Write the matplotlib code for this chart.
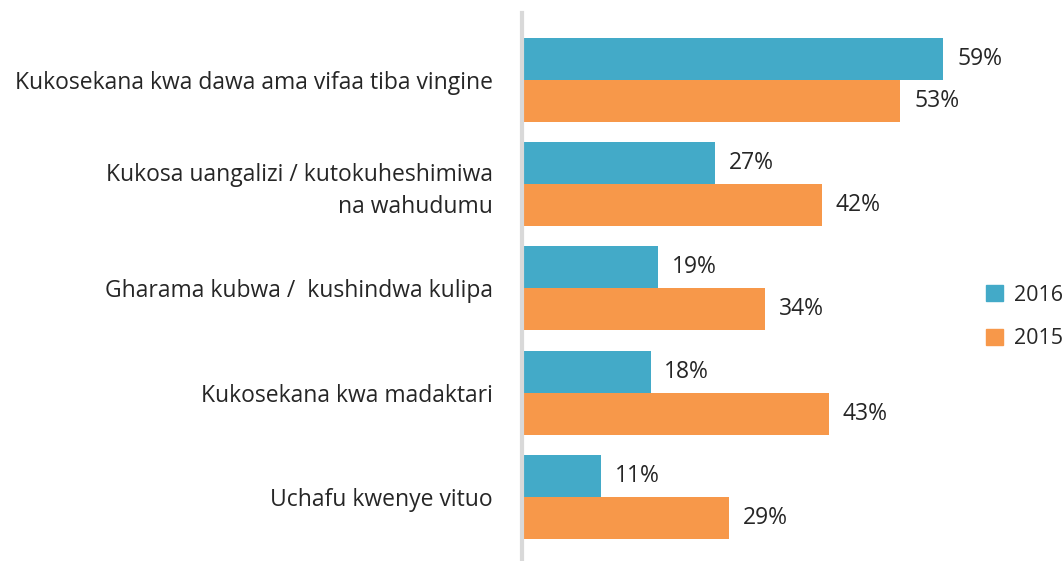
import matplotlib.pyplot as plt
from matplotlib.patches import Patch

plt.rcParams['font.family'] = ['Open Sans', 'DejaVu Sans']

categories = [
    "Kukosekana kwa dawa ama vifaa tiba vingine",
    "Kukosa uangalizi / kutokuheshimiwa\nna wahudumu",
    "Gharama kubwa /  kushindwa kulipa",
    "Kukosekana kwa madaktari",
    "Uchafu kwenye vituo",
]
values_2016 = [59, 27, 19, 18, 11]
values_2015 = [53, 42, 34, 43, 29]
series_names = ["2016", "2015"]

TEAL = "#43AAC8"
ORANGE = "#F7984A"
TEXT = "#262626"

W, H = 1064, 561
fig = plt.figure(figsize=(W / 100, H / 100), dpi=100)
ax = fig.add_axes([522 / W, 0, (W - 522) / W, (H - 13) / H])

pos = list(range(len(categories)))
bh = 0.402
teal_y = [p - bh / 2 for p in pos]
orange_y = [p + bh / 2 for p in pos]

b1 = ax.barh(teal_y, values_2016, height=bh, color=TEAL, zorder=1)
b2 = ax.barh(orange_y, values_2015, height=bh, color=ORANGE, zorder=1)

for bars, vals in [(b1, values_2016), (b2, values_2015)]:
    for bar, v in zip(bars, vals):
        ax.annotate(f"{v}%", (bar.get_width(), bar.get_y() + bar.get_height() / 2),
                    xytext=(10, 0), textcoords="offset points",
                    ha="left", va="center", fontsize=16.5, color=TEXT)

ax.set_xlim(0, (W - 522) / 7.14)
ax.set_ylim(4.611, -0.638)

ax.set_yticks(pos)
ax.set_yticklabels(categories, fontsize=16.5, color=TEXT, linespacing=1.45)
ax.tick_params(axis="y", length=0, pad=21)
ax.set_xticks([])

for s in ["top", "right", "bottom"]:
    ax.spines[s].set_visible(False)
ax.spines["left"].set_color("#D9D9D9")
ax.spines["left"].set_linewidth(3)

handles = [Patch(color=TEAL), Patch(color=ORANGE)]
fig.legend(handles, series_names, loc="center left",
           bbox_to_anchor=(986 / W, 1 - 317 / H), frameon=False,
           fontsize=15.5, handlelength=0.78, handleheight=0.78,
           handletextpad=0.5, labelspacing=1.05, borderpad=0, borderaxespad=0,
           labelcolor=TEXT)

fig.savefig("out.png", dpi=100)
